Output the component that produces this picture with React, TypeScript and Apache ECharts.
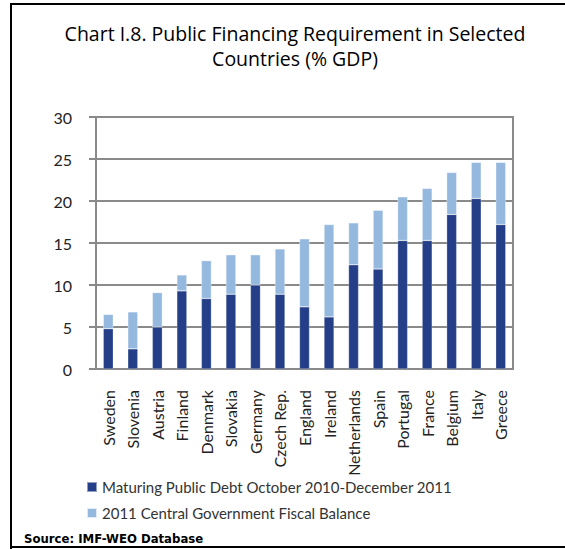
import React, { useEffect, useRef } from "react";
import * as echarts from "echarts";

const countries = [
  "Sweden", "Slovenia", "Austria", "Finland", "Denmark", "Slovakia", "Germany",
  "Czech Rep.", "England", "Ireland", "Netherlands", "Spain", "Portugal",
  "France", "Belgium", "Italy", "Greece",
];
const maturingDebt = [4.8, 2.4, 5.0, 9.3, 8.4, 8.9, 10.0, 8.9, 7.4, 6.2, 12.4, 11.9, 15.3, 15.3, 18.4, 20.3, 17.2];
const fiscalBalance = [1.7, 4.4, 4.1, 1.9, 4.5, 4.7, 3.6, 5.4, 8.1, 11.0, 5.0, 7.0, 5.2, 6.2, 5.0, 4.3, 7.4];

const seriesNames = [
  "Maturing Public Debt October 2010-December 2011",
  "2011 Central Government Fiscal Balance",
];
const titleText = "Chart I.8. Public Financing Requirement in Selected\nCountries (% GDP)";
const sourceText = "Source: IMF-WEO Database";

export default function App() {
  const ref = useRef<HTMLDivElement>(null);
  useEffect(() => {
    if (!ref.current) return;
    const chart = echarts.init(ref.current, undefined, { renderer: "svg" });
    const font = "Lato, 'DejaVu Sans', sans-serif";
    const narrow = "'DejaVu Sans Condensed', 'Open Sans', sans-serif";
    chart.setOption({
      animation: false,
      backgroundColor: "#ffffff",
      title: {
        text: titleText,
        left: 290,
        textAlign: "center",
        top: 16,
        textStyle: {
          fontFamily: "'Open Sans', sans-serif",
          fontSize: 19.5,
          fontWeight: "normal",
          color: "#000",
          lineHeight: 25,
        },
      },
      grid: {
        left: 96,
        right: 52,
        top: 117,
        bottom: 180,
        show: true,
        borderColor: "#8a8a8a",
        borderWidth: 2,
      },
      legend: {
        orient: "vertical",
        left: 81,
        top: 474,
        itemWidth: 10,
        itemHeight: 10,
        itemGap: 10,
        icon: "rect",
        textStyle: { fontFamily: font, fontSize: 15, color: "#333", lineHeight: 16 },
        data: seriesNames,
      },
      xAxis: {
        type: "category",
        data: countries,
        axisLine: { lineStyle: { color: "#8a8a8a", width: 2 } },
        axisTick: { show: false },
        axisLabel: {
          rotate: 90,
          margin: 21,
          interval: 0,
          fontFamily: font,
          fontSize: 16,
          color: "#222",
        },
      },
      yAxis: {
        type: "value",
        min: 0,
        max: 30,
        interval: 5,
        axisLine: { show: true, lineStyle: { color: "#8a8a8a", width: 2 } },
        axisTick: { show: true, length: 7, lineStyle: { color: "#8a8a8a", width: 2 } },
        splitLine: { lineStyle: { color: "#8a8a8a", width: 2 } },
        axisLabel: {
          margin: 24,
          fontFamily: font,
          fontSize: 16,
          color: "#222",
        },
      },
      series: [
        {
          name: seriesNames[0],
          type: "bar",
          stack: "total",
          barWidth: 10,
          data: maturingDebt,
          itemStyle: { color: "#243f87", borderColor: "rgba(255,255,255,0.5)", borderWidth: 0.5 },
        },
        {
          name: seriesNames[1],
          type: "bar",
          stack: "total",
          barWidth: 10,
          data: fiscalBalance,
          itemStyle: { color: "#94b8de", borderColor: "rgba(255,255,255,0.7)", borderWidth: 0.5 },
        },
      ],
      graphic: [
        { type: "line", shape: { x1: 11, y1: 4, x2: 565, y2: 4 }, style: { stroke: "#000", lineWidth: 2 } },
        { type: "line", shape: { x1: 11, y1: 3, x2: 11, y2: 549 }, style: { stroke: "#000", lineWidth: 2 } },
        { type: "line", shape: { x1: 10, y1: 547, x2: 565, y2: 547 }, style: { stroke: "#000", lineWidth: 2 } },
        {
          type: "text",
          left: 24,
          top: 532,
          style: {
            text: sourceText,
            fontFamily: narrow,
            fontSize: 13,
            fontWeight: "bold",
            fill: "#000",
          },
        },
      ],
    });
    return () => chart.dispose();
  }, []);
  return (
    <div
      ref={ref}
      style={{ position: "fixed", left: 0, top: 0, width: 565, height: 549 }}
    />
  );
}
